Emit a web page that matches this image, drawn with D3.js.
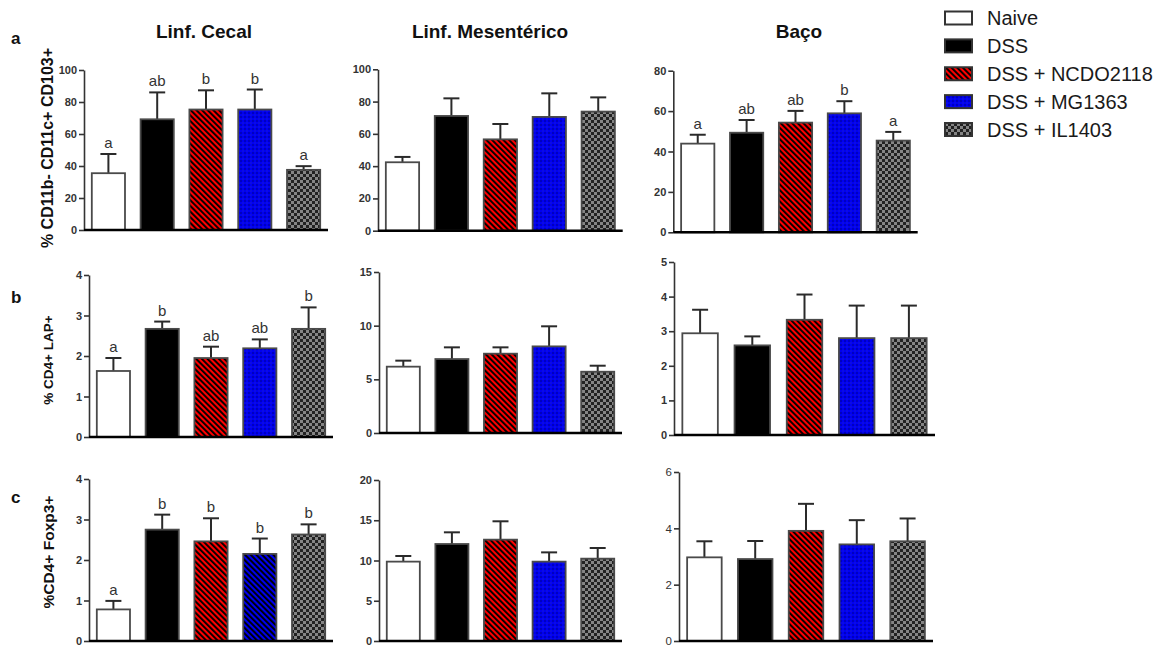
<!DOCTYPE html>
<html>
<head>
<meta charset="utf-8">
<script src="https://cdn.jsdelivr.net/npm/d3@7"></script>
<style>
  body { margin: 0; background: #fff; }
  svg { display: block; }
  text { font-family: Arial, "Liberation Sans", sans-serif; }
</style>
</head>
<body>
<svg id="chart" width="1163" height="646"></svg>
<script>
// groups / legend entries
var groups = ["Naive", "DSS", "DSS + NCDO2118", "DSS + MG1363", "DSS + IL1403"];
var columns = ["Linf. Cecal", "Linf. Mesentérico", "Baço"];
var rowIds = ["a", "b", "c"];
var yTitles = ["% CD11b- CD11c+ CD103+", "% CD4+ LAP+", "%CD4+ Foxp3+"];

// row a : CD11b- CD11c+ CD103+
var a1Mean = [35.5, 69.2, 75.3, 75.3, 37.6];
var a1Sem = [12.0, 16.8, 12.0, 12.5, 2.3];
var a1Letters = ["a", "ab", "b", "b", "a"];
var a1Ticks = [0, 20, 40, 60, 80, 100];

var a2Mean = [42.4, 71.1, 56.6, 70.5, 73.8];
var a2Sem = [3.3, 10.9, 9.5, 14.6, 8.8];
var a2Ticks = [0, 20, 40, 60, 80, 100];

var a3Mean = [43.9, 49.3, 54.3, 58.9, 45.4];
var a3Sem = [4.4, 6.3, 5.8, 6.0, 4.3];
var a3Letters = ["a", "ab", "ab", "b", "a"];
var a3Ticks = [0, 20, 40, 60, 80];

// row b : CD4+ LAP+
var b1Mean = [1.63, 2.67, 1.95, 2.19, 2.67];
var b1Sem = [0.32, 0.18, 0.28, 0.22, 0.53];
var b1Letters = ["a", "b", "ab", "ab", "b"];
var b1Ticks = [0, 1, 2, 3, 4];

var b2Mean = [6.18, 6.89, 7.39, 8.07, 5.71];
var b2Sem = [0.56, 1.09, 0.59, 1.87, 0.56];
var b2Ticks = [0, 5, 10, 15];

var b3Mean = [2.94, 2.59, 3.33, 2.80, 2.80];
var b3Sem = [0.68, 0.26, 0.73, 0.94, 0.94];
var b3Ticks = [0, 1, 2, 3, 4, 5];

// row c : CD4+ Foxp3+
var c1Mean = [0.78, 2.75, 2.46, 2.15, 2.63];
var c1Sem = [0.21, 0.37, 0.57, 0.38, 0.25];
var c1Letters = ["a", "b", "b", "b", "b"];
var c1Ticks = [0, 1, 2, 3, 4];

var c2Mean = [9.86, 12.05, 12.59, 9.86, 10.23];
var c2Sem = [0.70, 1.45, 2.28, 1.15, 1.32];
var c2Ticks = [0, 5, 10, 15, 20];

var c3Mean = [2.97, 2.91, 3.91, 3.43, 3.54];
var c3Sem = [0.57, 0.64, 0.96, 0.86, 0.81];
var c3Ticks = [0, 2, 4, 6];

var groupFills = ["#ffffff", "#000000", "url(#stripeRed)", "url(#dotBlue)", "url(#checker)"];

// layout of the nine panels: [x left, x right, y top, y bottom]
var panels = [
  {mean: a1Mean, sem: a1Sem, letters: a1Letters, ticks: a1Ticks, box: [84, 328, 70, 230]},
  {mean: a2Mean, sem: a2Sem, letters: null, ticks: a2Ticks, box: [378, 622.7, 69.3, 230.7]},
  {mean: a3Mean, sem: a3Sem, letters: a3Letters, ticks: a3Ticks, box: [673.3, 917.7, 70.7, 232.3]},
  {mean: b1Mean, sem: b1Sem, letters: b1Letters, ticks: b1Ticks, box: [89, 333, 275, 437]},
  {mean: b2Mean, sem: b2Sem, letters: null, ticks: b2Ticks, box: [379, 622, 272, 433]},
  {mean: b3Mean, sem: b3Sem, letters: null, ticks: b3Ticks, box: [674, 935, 262, 435]},
  {mean: c1Mean, sem: c1Sem, letters: c1Letters, ticks: c1Ticks, box: [89, 333, 479, 641], blueStriped: true},
  {mean: c2Mean, sem: c2Sem, letters: null, ticks: c2Ticks, box: [379, 622, 480, 641]},
  {mean: c3Mean, sem: c3Sem, letters: null, ticks: c3Ticks, box: [679, 933, 472, 641], thinTicks: true}
];

var svg = d3.select('#chart');

/* ---------- patterns ---------- */
var defs = svg.append('defs');

function stripes(id, base) {
  var p = defs.append('pattern').attr('id', id)
    .attr('patternUnits', 'userSpaceOnUse')
    .attr('width', 4).attr('height', 4)
    .attr('patternTransform', 'rotate(-45)');
  p.append('rect').attr('width', 4).attr('height', 4).attr('fill', base);
  p.append('rect').attr('width', 1.9).attr('height', 4).attr('fill', '#000');
}
stripes('stripeRed', '#ff0000');
stripes('stripeBlue', '#0000ee');

var dot = defs.append('pattern').attr('id', 'dotBlue')
  .attr('patternUnits', 'userSpaceOnUse').attr('width', 4).attr('height', 4);
dot.append('rect').attr('width', 4).attr('height', 4).attr('fill', '#0000f2');
dot.append('circle').attr('cx', 1).attr('cy', 1).attr('r', 0.9).attr('fill', '#0000a8');
dot.append('circle').attr('cx', 3).attr('cy', 3).attr('r', 0.8).attr('fill', '#1a1ad0');

var chk = defs.append('pattern').attr('id', 'checker')
  .attr('patternUnits', 'userSpaceOnUse').attr('width', 6).attr('height', 6);
chk.append('rect').attr('width', 6).attr('height', 6).attr('fill', '#222');
chk.append('rect').attr('width', 3).attr('height', 3).attr('fill', '#858585');
chk.append('rect').attr('x', 3).attr('y', 3).attr('width', 3).attr('height', 3).attr('fill', '#858585');

/* ---------- panels ---------- */
panels.forEach(function(p) {
  var x = d3.scaleBand().domain(groups)
    .range([p.box[0], p.box[1]])
    .paddingInner(0.32).paddingOuter(0.16);
  var y = d3.scaleLinear().domain([0, d3.max(p.ticks)]).range([p.box[3], p.box[2]]);
  var g = svg.append('g');

  // error bars (upper only)
  var err = g.append('g').attr('stroke', '#2a2a2a').attr('stroke-width', 2);
  groups.forEach(function(d, i) {
    var cx = x(d) + x.bandwidth() / 2;
    var top = y(p.mean[i] + p.sem[i]);
    err.append('line').attr('x1', cx).attr('x2', cx).attr('y1', y(p.mean[i])).attr('y2', top);
    err.append('line').attr('x1', cx - 8).attr('x2', cx + 8).attr('y1', top).attr('y2', top);
  });

  g.selectAll('rect.bar').data(groups).join('rect')
    .attr('class', 'bar')
    .attr('x', function(d) { return x(d); })
    .attr('y', function(d, i) { return y(p.mean[i]); })
    .attr('width', x.bandwidth())
    .attr('height', function(d, i) { return y(0) - y(p.mean[i]); })
    .attr('fill', function(d, i) {
      if (i == 3 && p.blueStriped) return 'url(#stripeBlue)';
      return groupFills[i];
    })
    .attr('stroke', '#4a4a4a').attr('stroke-width', 1.8);

  if (p.letters) {
    g.selectAll('text.sig').data(groups).join('text')
      .attr('class', 'sig')
      .attr('x', function(d) { return x(d) + x.bandwidth() / 2; })
      .attr('y', function(d, i) { return y(p.mean[i] + p.sem[i]) - 6; })
      .attr('text-anchor', 'middle')
      .attr('font-size', 15).attr('fill', '#333')
      .text(function(d, i) { return p.letters[i]; });
  }

  // y axis
  var ax = g.append('g').attr('transform', 'translate(' + p.box[0] + ',0)')
    .call(d3.axisLeft(y).tickValues(p.ticks).tickSize(5).tickSizeOuter(0).tickPadding(2).tickFormat(d3.format('d')));
  ax.select('.domain').attr('stroke', '#333').attr('stroke-width', 1.6);
  ax.selectAll('.tick line').attr('stroke', '#333').attr('stroke-width', 1.6);
  ax.selectAll('.tick text')
    .attr('font-size', p.thinTicks ? 11.5 : 11)
    .attr('font-weight', p.thinTicks ? 'normal' : 'bold')
    .attr('font-family', 'Arial, "Liberation Sans", sans-serif')
    .attr('fill', '#333');

  // x axis baseline
  g.append('line')
    .attr('x1', p.box[0]).attr('x2', p.box[1])
    .attr('y1', y(0)).attr('y2', y(0))
    .attr('stroke', '#000').attr('stroke-width', 2.5);
});

/* ---------- titles ---------- */
var colX = [204, 490, 799];
svg.selectAll('text.col').data(columns).join('text')
  .attr('class', 'col')
  .attr('x', function(d, i) { return colX[i]; })
  .attr('y', 38)
  .attr('text-anchor', 'middle')
  .attr('font-size', 19).attr('font-weight', 'bold').attr('fill', '#111')
  .text(function(d) { return d; });

var rowY = [44, 303, 503];
svg.selectAll('text.row').data(rowIds).join('text')
  .attr('class', 'row')
  .attr('x', 11)
  .attr('y', function(d, i) { return rowY[i]; })
  .attr('font-size', 17).attr('font-weight', 'bold').attr('fill', '#111')
  .text(function(d) { return d; });

var titlePos = [[53, 148, 16], [53, 360, 13.5], [54, 552, 15.5]];
svg.selectAll('text.ytitle').data(yTitles).join('text')
  .attr('class', 'ytitle')
  .attr('transform', function(d, i) { return 'translate(' + titlePos[i][0] + ',' + titlePos[i][1] + ') rotate(-90)'; })
  .attr('text-anchor', 'middle')
  .attr('font-size', function(d, i) { return titlePos[i][2]; })
  .attr('font-weight', 'bold').attr('fill', '#111')
  .text(function(d) { return d; });

/* ---------- legend ---------- */
var ly = d3.scalePoint().domain(groups).range([18, 129.5]);
var leg = svg.append('g');
leg.selectAll('rect').data(groups).join('rect')
  .attr('x', 945).attr('y', function(d) { return ly(d) - 6.5; })
  .attr('width', 27).attr('height', 13)
  .attr('fill', function(d, i) { return groupFills[i]; })
  .attr('stroke', '#333').attr('stroke-width', 2);
leg.selectAll('text').data(groups).join('text')
  .attr('x', 987).attr('y', function(d) { return ly(d); })
  .attr('dy', '0.36em')
  .attr('font-size', 20).attr('fill', '#1a1a1a')
  .text(function(d) { return d; });
</script>
</body>
</html>
